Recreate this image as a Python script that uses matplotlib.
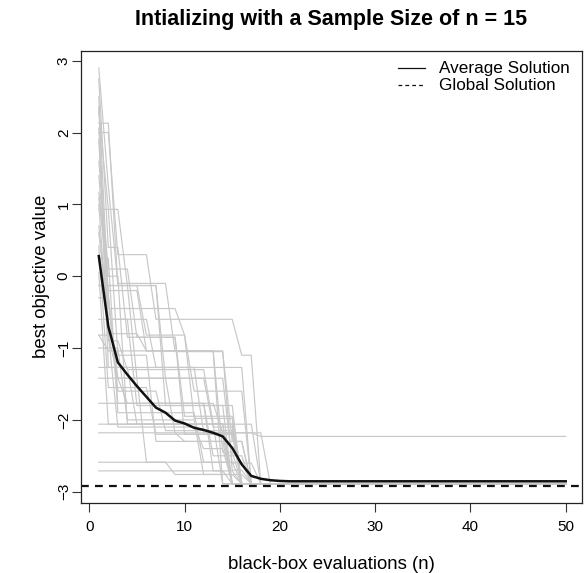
import numpy as np
import matplotlib
matplotlib.use("Agg")
import matplotlib.pyplot as plt

plt.rcParams["font.family"] = ["Liberation Sans", "DejaVu Sans"]

# each run: evaluation at which the best value improved, and the new best value
run_steps = [
    [1, 2, 3, 9, 15, 17],
    [1, 2, 4, 10, 16],
    [1, 2, 6, 15, 17],
    [1, 3, 5, 13, 16],
    [1, 2, 17],
    [1, 2, 3, 14, 16],
    [1, 2, 4, 16],
    [1, 4, 8, 16],
    [1, 2, 7, 15],
    [1, 3, 12, 17],
    [1, 6, 11, 16],
    [1, 8, 15, 18],
    [1, 3, 9, 18],
    [1, 2, 14],
    [1, 5, 15],
    [1, 4, 13, 16],
    [1, 13, 17],
    [1, 14],
    [1, 10, 15],
    [1, 9, 16],
    [1, 15],
    [1, 2, 5, 10, 16],
    [1, 2, 3, 7, 17],
    [1, 2, 3, 12, 15],
    [1, 3, 8, 16],
    [1, 2, 5, 15],
    [1, 4, 12, 17],
    [1, 2, 18],
    [1, 2, 3, 6, 16],
    [1, 7, 12, 19],
    [1, 2, 6, 14, 16],
    [1, 2, 10, 11, 17],
    [1, 3, 7, 16, 18],
    [1, 2, 4, 13, 15],
]
run_best = [
    [2.90, 1.25, -0.10, -1.05, -2.30, -2.89],
    [2.75, 0.40, -0.85, -1.95, -2.89],
    [2.36, -0.80, -1.04, -2.70, -2.89],
    [2.13, -0.13, -1.42, -2.10, -2.89],
    [2.06, -1.27, -2.89],
    [1.17, -0.25, -1.77, -2.18, -2.89],
    [1.09, 0.00, -2.06, -2.89],
    [0.93, -0.13, -1.80, -2.89],
    [0.42, -1.55, -2.20, -2.89],
    [0.25, -1.90, -2.59, -2.89],
    [-0.13, -0.82, -1.98, -2.89],
    [-0.13, -1.42, -2.60, -2.89],
    [-0.82, -1.42, -2.18, -2.23],
    [-0.82, -1.04, -2.89],
    [-1.27, -2.06, -2.89],
    [-1.42, -1.77, -2.71, -2.89],
    [-1.77, -2.50, -2.89],
    [-2.06, -2.89],
    [-2.18, -2.30, -2.89],
    [-2.59, -2.76, -2.89],
    [-2.71, -2.89],
    [1.60, 0.10, -0.85, -2.20, -2.89],
    [2.30, 0.93, -1.10, -2.30, -2.89],
    [0.70, -0.80, -2.10, -2.40, -2.89],
    [-0.30, -1.60, -2.15, -2.89],
    [1.90, -0.60, -1.80, -2.89],
    [-1.00, -2.00, -2.76, -2.89],
    [0.05, -2.06, -2.89],
    [2.50, -0.30, -1.42, -2.59, -2.89],
    [-0.60, -1.27, -2.18, -2.89],
    [1.40, -0.20, -1.04, -2.45, -2.89],
    [0.60, -0.45, -0.82, -1.60, -2.89],
    [2.00, 0.30, -0.60, -1.10, -2.89],
    [1.00, -0.90, -1.30, -2.05, -2.89],
]

avg_best = [0.28, -0.70, -1.20, -1.37, -1.53, -1.68, -1.83, -1.90, -2.01, -2.05,
            -2.11, -2.14, -2.18, -2.23, -2.39, -2.62, -2.78, -2.82, -2.84, -2.85,
            -2.855, -2.855, -2.855, -2.855, -2.855, -2.855, -2.855, -2.855, -2.855, -2.855,
            -2.855, -2.855, -2.855, -2.855, -2.855, -2.855, -2.855, -2.855, -2.855, -2.855,
            -2.855, -2.855, -2.855, -2.855, -2.855, -2.855, -2.855, -2.855, -2.855, -2.855]

global_best = -2.92
n_eval = np.arange(1, 51)

fig = plt.figure(figsize=(5.85, 5.73), dpi=100)
ax = fig.add_axes([80.5 / 585, 1 - 502.7 / 573, 501.8 / 585, 452 / 573])

for steps, vals in zip(run_steps, run_best):
    # best-so-far value holds until the next improvement
    idx = np.searchsorted(steps, n_eval, side="right") - 1
    ax.plot(n_eval, np.array(vals)[idx], color="#c8c8c8", lw=0.85)

ax.plot(n_eval, avg_best, color="#111111", lw=1.8)
ax.axhline(global_best, color="#111111", lw=1.6, dashes=(3.5, 2.8))

ax.set_xlim(-0.92, 51.74)
ax.set_ylim(-3.153, 3.139)
ax.set_xticks([0, 10, 20, 30, 40, 50])
ax.set_yticks([-3, -2, -1, 0, 1, 2, 3])
ax.tick_params(length=6.5, width=0.8, labelsize=11, color="#333333")
ax.tick_params(axis="x", pad=6)
ax.tick_params(axis="y", labelrotation=90, pad=0.5)
for t in ax.get_yticklabels():
    t.set_va("center")
for s in ax.spines.values():
    s.set_linewidth(0.9)
    s.set_color("#222222")

ax.set_xlabel("black-box evaluations (n)", fontsize=13.4, labelpad=16)
ax.set_ylabel("best objective value", fontsize=13.4, labelpad=5)

fig.text(331.4 / 585, 1 - 19 / 573, "Intializing with a Sample Size of n = 15",
         ha="center", va="center", fontsize=15.5, fontweight="bold")

# legend drawn by hand, no frame
def ax_x(px):
    return (px - 80.5) / 501.8

def ax_y(py):
    return (502.7 - py) / 452

ax.plot([ax_x(398), ax_x(425)], [ax_y(68), ax_y(68)], transform=ax.transAxes,
        color="#111111", lw=0.9, clip_on=False)
ax.plot([ax_x(398), ax_x(425)], [ax_y(85), ax_y(85)], transform=ax.transAxes,
        color="#111111", lw=0.9, dashes=(3, 2.5), clip_on=False)
ax.text(ax_x(439), ax_y(68), "Average Solution", transform=ax.transAxes,
        va="center", ha="left", fontsize=12.3)
ax.text(ax_x(439), ax_y(85), "Global Solution", transform=ax.transAxes,
        va="center", ha="left", fontsize=12.3)

fig.savefig("out.png", dpi=100)
